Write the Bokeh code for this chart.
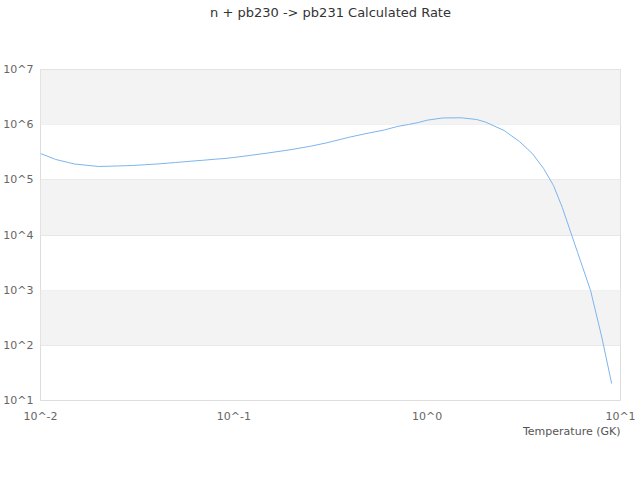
from bokeh.plotting import figure
from bokeh.models import BoxAnnotation, FixedTicker, Title
from bokeh.embed import file_html
from bokeh.resources import INLINE

temperature = [0.01, 0.012, 0.015, 0.02, 0.025, 0.03, 0.04, 0.05, 0.06, 0.07, 0.08, 0.09,
               0.1, 0.12, 0.15, 0.2, 0.25, 0.3, 0.4, 0.5, 0.6, 0.7, 0.8, 0.9,
               1.0, 1.2, 1.5, 1.8, 2.0, 2.5, 3.0, 3.5, 4.0, 4.5, 5.0, 6.0, 7.0, 8.0, 9.0]
log_rate = [5.477, 5.369, 5.287, 5.242, 5.251, 5.260, 5.287, 5.314, 5.338, 5.356, 5.374, 5.387,
            5.405, 5.441, 5.486, 5.550, 5.610, 5.668, 5.777, 5.849, 5.903, 5.967, 6.003, 6.039,
            6.081, 6.121, 6.125, 6.094, 6.048, 5.894, 5.695, 5.477, 5.206, 4.897, 4.499, 3.683,
            2.994, 2.150, 1.308]
rate = [10 ** v for v in log_rate]

x_ticks = [0.01, 0.1, 1, 10]
x_labels = ["10^-2", "10^-1", "10^0", "10^1"]
y_ticks = [1e1, 1e2, 1e3, 1e4, 1e5, 1e6, 1e7]
y_labels = ["10^1", "10^2", "10^3", "10^4", "10^5", "10^6", "10^7"]
bands = [(1e6, 1e7), (1e4, 1e5), (1e2, 1e3)]

FONT = "DejaVu Sans"

p = figure(width=636, height=470, x_axis_type="log", y_axis_type="log",
           x_range=(0.01, 10), y_range=(10, 1e7),
           output_backend="svg", toolbar_location=None,
           min_border_left=40, min_border_right=16, min_border_top=10, min_border_bottom=70)
p.title_location = None

title = Title(text="n + pb230 -> pb231 Calculated Rate", align="center",
              vertical_align="top", text_font=FONT, text_font_size="13px",
              text_font_style="normal", text_color="#333333", standoff=9)
try:
    title.padding = dict(left=0, right=0, top=0, bottom=43)
except Exception:
    p.add_layout(Title(text="\u200b", text_font=FONT, text_font_size="13px",
                       text_alpha=0.0, standoff=26), "above")
p.add_layout(title, "above")

p.outline_line_color = "#dddddd"
p.background_fill_color = "white"
p.border_fill_color = "white"

for lo, hi in bands:
    p.add_layout(BoxAnnotation(bottom=lo, top=hi, fill_color="#f3f3f3", fill_alpha=1.0,
                               line_color=None, level="underlay"))

p.xgrid.grid_line_color = None
p.ygrid.grid_line_color = "#e6e6e6"
p.ygrid.ticker = FixedTicker(ticks=y_ticks)

main_x = p.below[0]
main_y = p.left[0]
main_x.ticker = FixedTicker(ticks=x_ticks)
main_y.ticker = FixedTicker(ticks=y_ticks)
main_x.major_label_overrides = {t: s for t, s in zip(x_ticks, x_labels)}
main_y.major_label_overrides = {t: s for t, s in zip(y_ticks, y_labels)}

for ax in (main_x, main_y):
    ax.axis_line_color = None
    ax.major_tick_line_color = None
    ax.minor_tick_line_color = None
    ax.major_tick_out = 0
    ax.major_tick_in = 0
    ax.minor_tick_out = 0
    ax.minor_tick_in = 0
    ax.major_label_text_font = FONT
    ax.major_label_text_font_size = "11px"
    ax.major_label_text_color = "#666666"
main_x.major_label_standoff = 9
main_y.major_label_standoff = 7

p.add_layout(Title(text="Temperature (GK)", align="right", text_font=FONT, standoff=-6,
                   text_font_size="11px", text_font_style="normal", text_color="#555555"),
             "below")

p.line(temperature, rate, line_color="#7cb5ec", line_width=1)

open("out.html", "w").write(file_html(p, INLINE))
